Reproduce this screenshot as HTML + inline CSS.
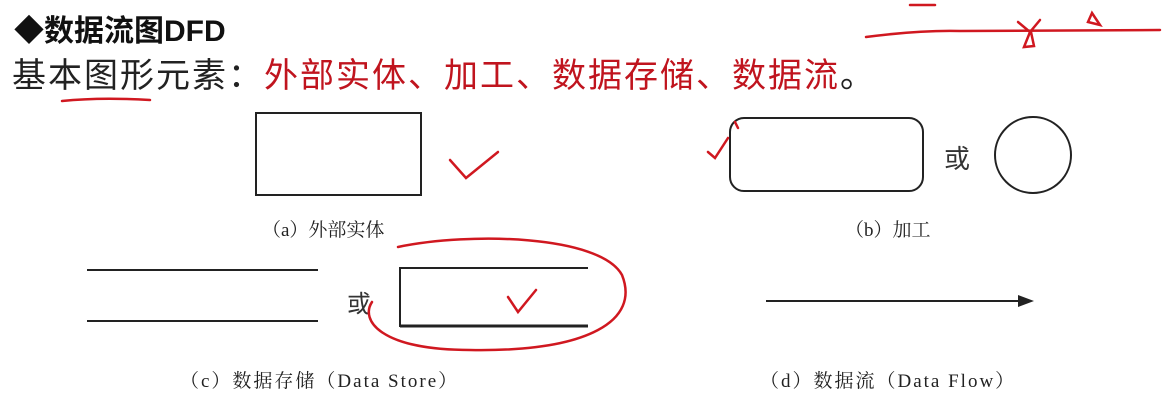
<!DOCTYPE html>
<html><head><meta charset="utf-8"><style>
body{margin:0;width:1170px;height:413px;background:#fff;position:relative;overflow:hidden;font-family:"Liberation Sans","Noto Sans CJK SC",sans-serif}
.t{position:absolute;white-space:nowrap}
.s{font-family:"Liberation Serif","Noto Serif CJK SC",serif;font-size:19px;color:#222}
</style></head><body>
<div class="t" style="left:14px;top:6px;font-size:30px;font-weight:bold;color:#111">◆数据流图DFD</div>
<div class="t" style="left:12px;top:48px;font-size:34px;letter-spacing:2px;color:#222">基本图形元素：<span style="color:#c0141e">外部实体、加工、数据存储、数据流</span>。</div>
<div class="t s" style="left:262px;top:215px">（a）外部实体</div>
<div class="t s" style="left:845px;top:215px">（b）加工</div>
<div class="t s" style="left:180px;top:366px;letter-spacing:2px">（c）数据存储（Data Store）</div>
<div class="t s" style="left:760px;top:366px;letter-spacing:2px">（d）数据流（Data Flow）</div>
<div class="t" style="left:944px;top:139px;font-size:26px;color:#333">或</div>
<div class="t" style="left:347px;top:284px;font-size:24px;color:#333">或</div>
<svg width="1170" height="413" style="position:absolute;left:0;top:0">
<g fill="none" stroke="#222" stroke-width="2">
<rect x="256" y="113" width="165" height="82"/>
<rect x="730" y="118" width="193" height="73" rx="14"/>
<circle cx="1033" cy="155" r="38"/>
<line x1="87" y1="270" x2="318" y2="270"/>
<line x1="87" y1="321" x2="318" y2="321"/>
<polyline points="588,268 400,268 400,327"/>
<line x1="400" y1="326" x2="588" y2="326" stroke-width="3"/>
<line x1="766" y1="301" x2="1020" y2="301"/>
</g>
<polygon points="1034,301 1018,295 1018,307" fill="#222"/>
<g fill="none" stroke="#d01820" stroke-width="2.5" stroke-linecap="round">
<path d="M62 101 Q100 97 150 100"/>
<path d="M450 160 L466 178 L498 152"/>
<path d="M708 152 L715 158 L728 138 M735 122 L738 128"/>
<path d="M508 297 L518 312 L536 290"/>
<path d="M398 247 C470 232 600 235 622 275 C640 320 590 352 470 350 C380 350 360 320 372 302"/>
<path d="M866 37 Q920 30 960 31 L1160 30"/>
<path d="M910 5 L935 5"/>
<path d="M1018 22 L1030 32 L1040 20 M1030 32 L1024 47 L1034 46 L1031 32"/>
<path d="M1092 13 L1088 22 L1100 25 Z"/>
</g>
</svg>
</body></html>
